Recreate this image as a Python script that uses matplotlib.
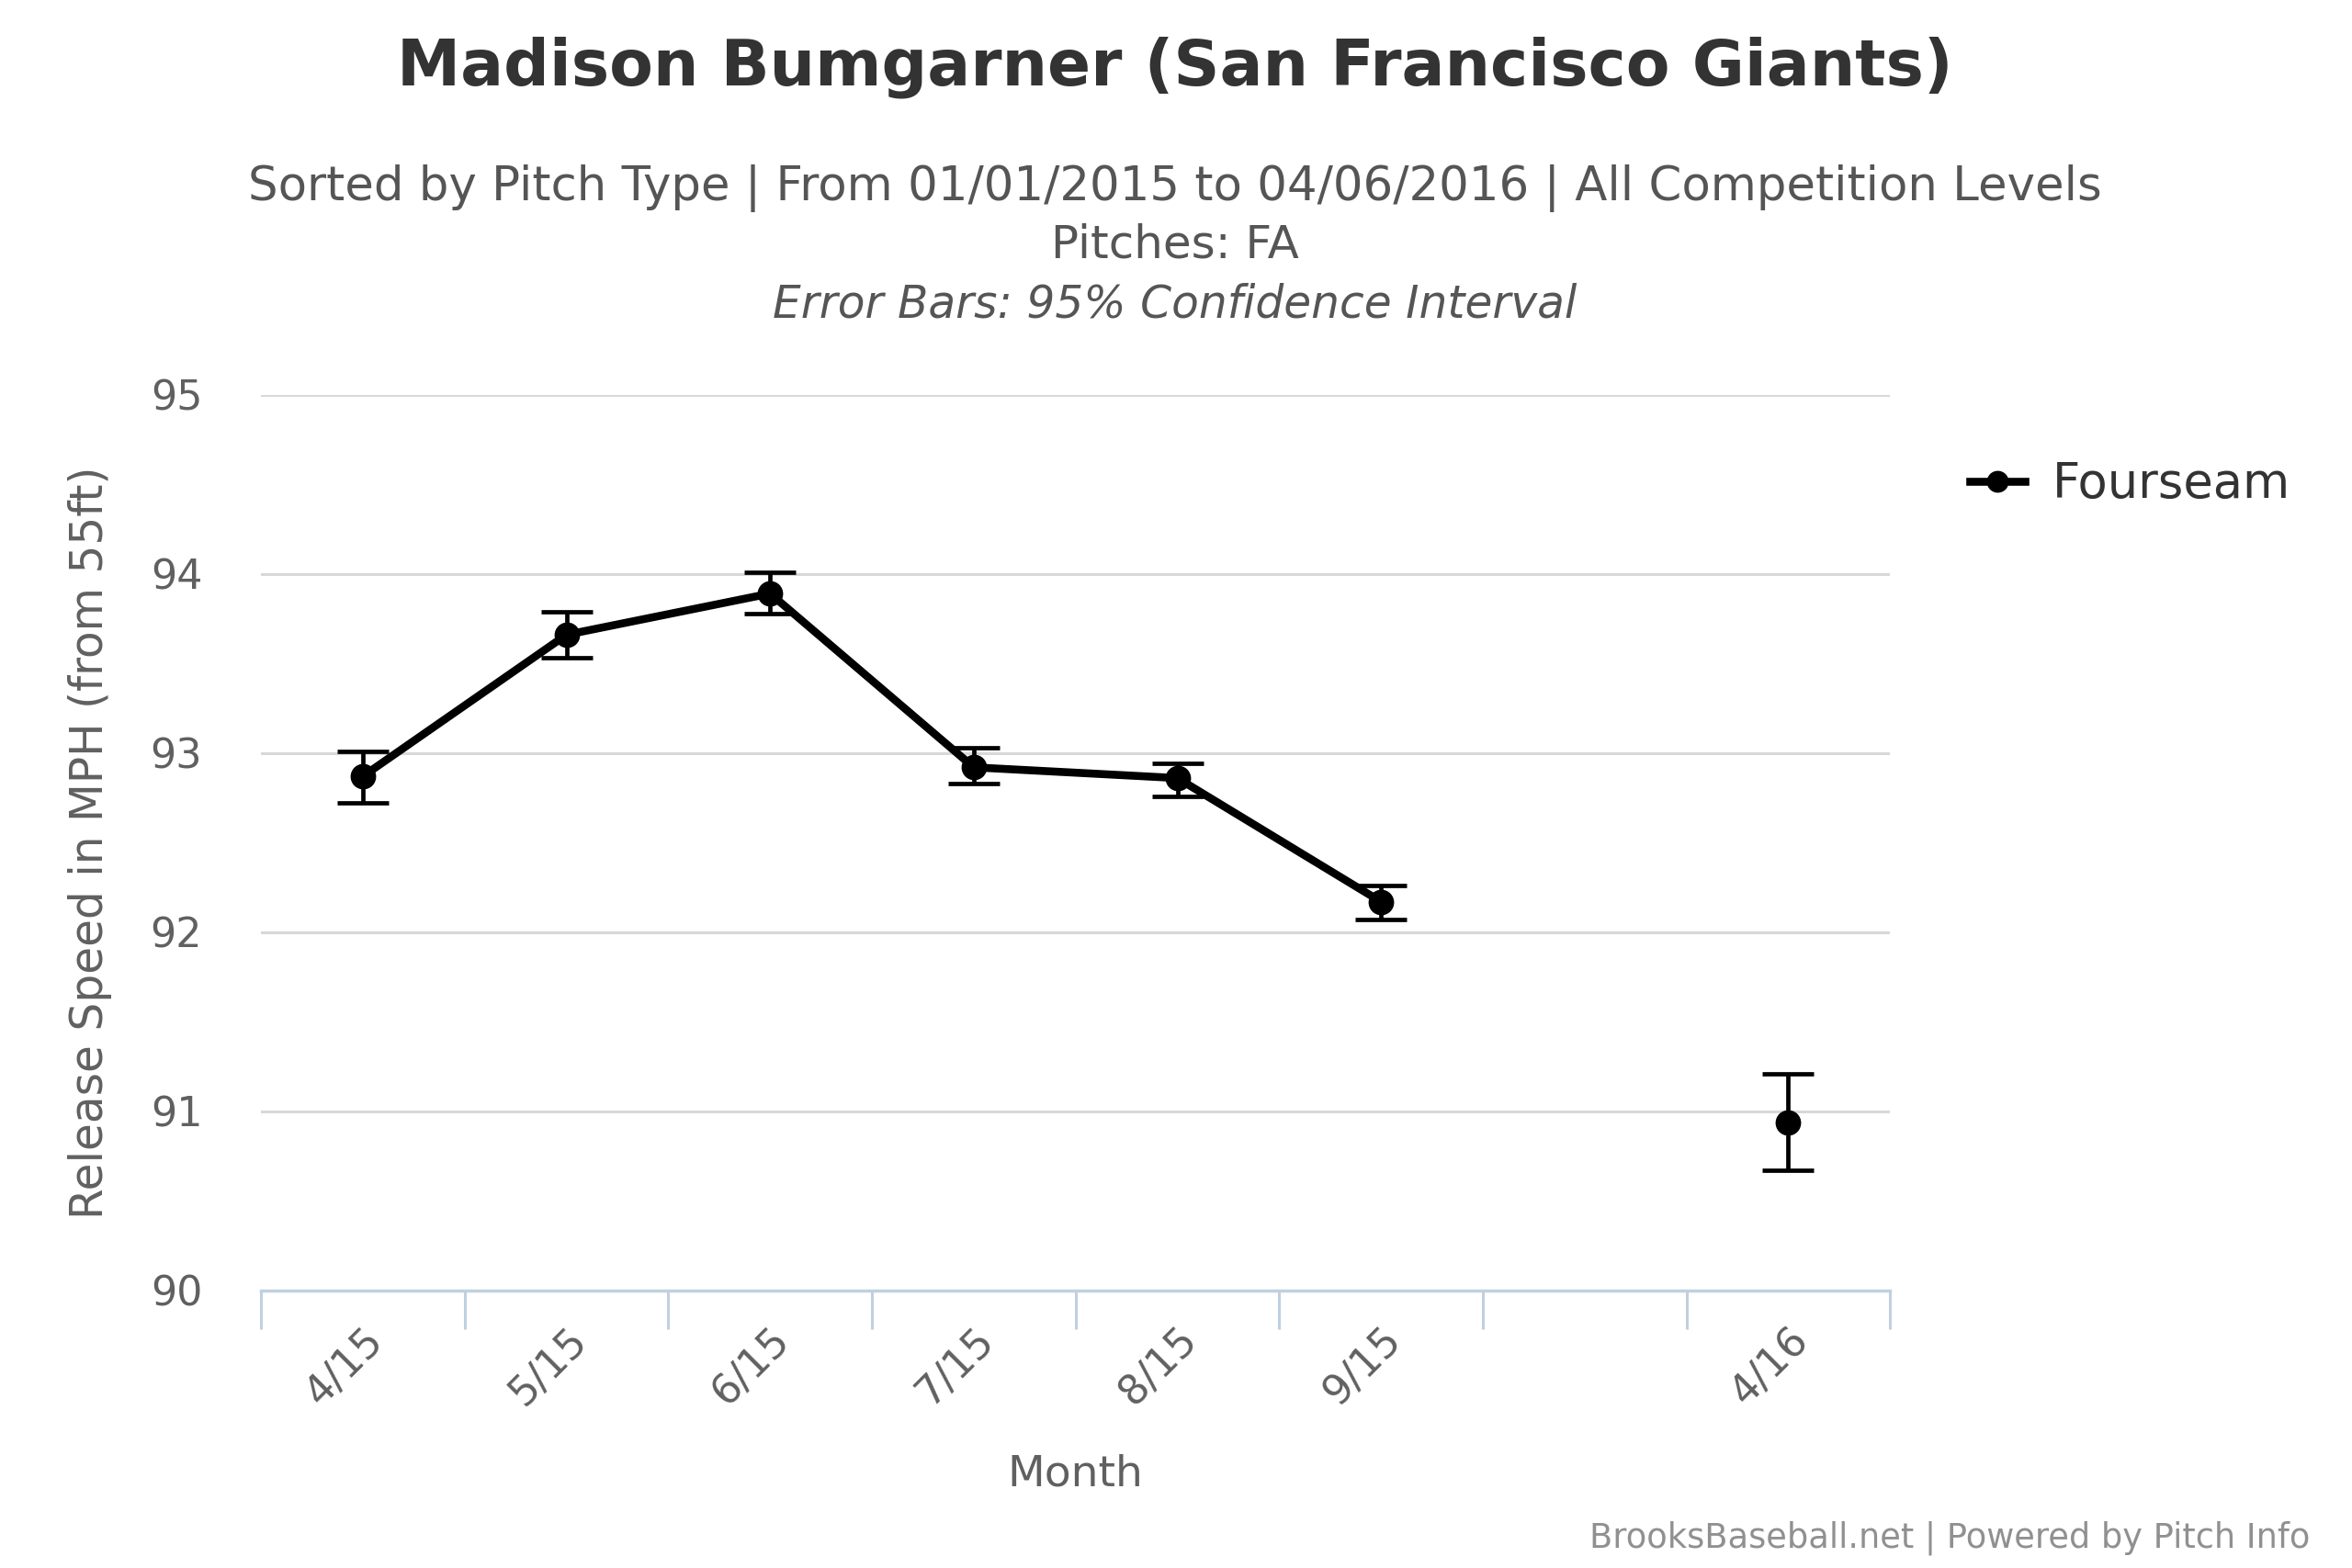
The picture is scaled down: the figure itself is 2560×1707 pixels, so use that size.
import numpy as np
import matplotlib
matplotlib.use("Agg")
import matplotlib.pyplot as plt

# values (mph), blank month has no data
months = ['4/15', '5/15', '6/15', '7/15', '8/15', '9/15', '', '4/16']
speed = [92.87, 93.66, 93.89, 92.92, 92.86, 92.17, np.nan, 90.94]
ci_low = [92.72, 93.53, 93.78, 92.83, 92.76, 92.07, np.nan, 90.67]
ci_high = [93.01, 93.79, 94.01, 93.03, 92.94, 92.26, np.nan, 91.21]

plt.rcParams['font.family'] = ['DejaVu Sans']

fig = plt.figure(figsize=(25.6, 17.07), dpi=100)
ax = fig.add_axes([0.111, 0.177, 0.6926, 0.5713])

x = np.arange(len(months))
speed = np.array(speed)
yerr = np.array([speed - np.array(ci_low), np.array(ci_high) - speed])

ax.errorbar(x, speed, yerr=yerr, fmt='none', ecolor='black', elinewidth=3.4,
            capsize=20, capthick=3.4, zorder=3)
ax.plot(x, speed, color='black', lw=6.2, marker='o', markersize=19,
        label='Fourseam', zorder=4)

ax.set_xlim(-0.5, len(months) - 0.5)
ax.set_ylim(90, 95)
ax.set_yticks([90, 91, 92, 93, 94, 95])
ax.grid(axis='y', color='#D8D8D8', lw=2.2)
ax.set_axisbelow(True)
for s in ['top', 'right', 'left']:
    ax.spines[s].set_visible(False)
ax.spines['bottom'].set_color('#C0D0E0')
ax.spines['bottom'].set_linewidth(2.5)

# tick marks between categories
ax.set_xticks(np.arange(-0.5, len(months)), minor=False)
ax.set_xticklabels([])
ax.tick_params(axis='x', which='major', length=30, width=2.2, color='#C0D0E0',
               direction='out')
ax.set_xticks(x, minor=True)
ax.set_xticklabels(months, minor=True, rotation=45, ha='right',
                   rotation_mode='anchor', fontsize=32, color='#606060')
ax.tick_params(axis='x', which='minor', length=0, pad=23)
ax.tick_params(axis='y', length=0, labelsize=32, labelcolor='#606060', pad=46)

ax.set_xlabel('Month', fontsize=34, color='#606060', labelpad=32)
ax.set_ylabel('Release Speed in MPH (from 55ft)', fontsize=35, color='#606060',
              labelpad=30)

cx = 0.4995
fig.text(cx, 0.957, 'Madison Bumgarner (San Francisco Giants)', ha='center',
         va='center', fontsize=50, fontweight='bold', color='#333333')
fig.text(cx, 0.880, 'Sorted by Pitch Type | From 01/01/2015 to 04/06/2016 | All Competition Levels',
         ha='center', va='center', fontsize=37, color='#555555')
fig.text(cx, 0.844, 'Pitches: FA', ha='center', va='center', fontsize=36,
         color='#555555')
fig.text(cx, 0.806, 'Error Bars: 95% Confidence Interval', ha='center',
         va='center', fontsize=35, style='italic', color='#555555')

ax.legend(loc='center left', bbox_to_anchor=(1.022, 0.90), frameon=False,
          fontsize=38, handlelength=1.15, handletextpad=0.55, markerscale=0.85,
          labelcolor='#333333')

fig.text(0.982, 0.019, 'BrooksBaseball.net | Powered by Pitch Info', ha='right',
         va='center', fontsize=26.5, color='#909090')

fig.savefig('out.png', dpi=100, facecolor='white')
